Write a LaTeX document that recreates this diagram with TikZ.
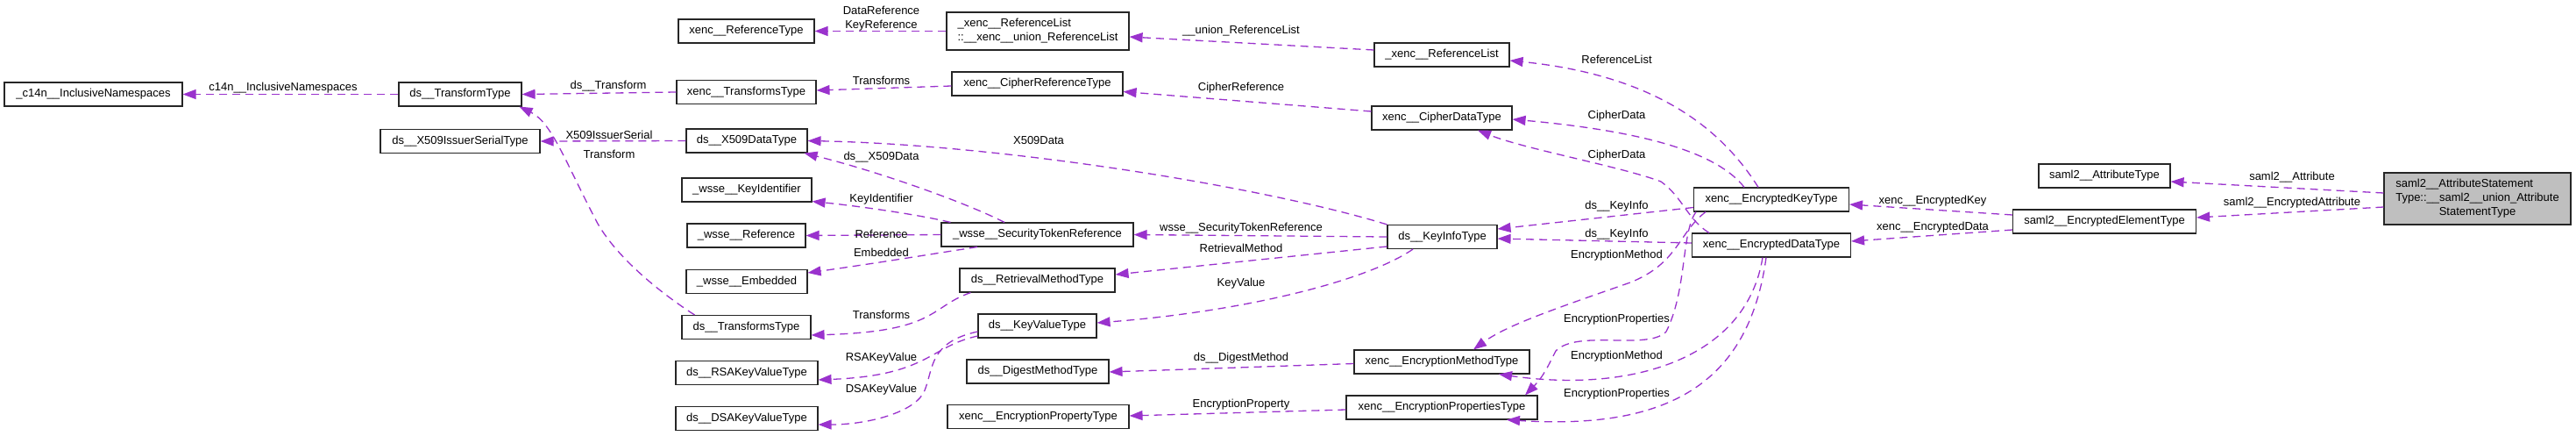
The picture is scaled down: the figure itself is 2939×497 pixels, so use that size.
\documentclass[tikz,border=0pt]{standalone}
\usepackage{fontspec}
\setmainfont{Liberation Sans}
\usetikzlibrary{arrows.meta}
\definecolor{edgec}{HTML}{9A32CD}
\definecolor{mainfill}{HTML}{BFBFBF}
\begin{document}
\begin{tikzpicture}[x=1pt,y=-1pt,font=\fontsize{13}{16}\selectfont,
  cls/.style={draw=black!85, line width=1.1pt, fill=white, inner sep=0pt, minimum height=27pt, align=center},
  rel/.style={draw=edgec, line width=1.3pt, dash pattern=on 9pt off 6pt, -{Triangle[length=15pt,width=11pt]}},
  lbl/.style={inner sep=0pt, align=center}]
\fill[white] (0,0) rectangle (2939,497);
\useasboundingbox (0,0) rectangle (2939,497);
% class nodes
\node[cls, minimum width=203pt] (c14n) at (106.5,107.5) {\_c14n\_\_InclusiveNamespaces};
\node[cls, minimum width=140pt] (tt) at (525,107.5) {ds\_\_TransformType};
\node[cls, minimum width=182pt] (xis) at (525,161) {ds\_\_X509IssuerSerialType};
\node[cls, minimum width=155pt] (rt) at (851.5,35.5) {xenc\_\_ReferenceType};
\node[cls, minimum width=159pt] (xtt) at (851.5,105) {xenc\_\_TransformsType};
\node[cls, minimum width=138pt] (xd) at (852,160.5) {ds\_\_X509DataType};
\node[cls, minimum width=148pt] (ki) at (852,216.5) {\_wsse\_\_KeyIdentifier};
\node[cls, minimum width=135pt] (wr) at (851.5,268.5) {\_wsse\_\_Reference};
\node[cls, minimum width=138pt] (we) at (852,321) {\_wsse\_\_Embedded};
\node[cls, minimum width=147pt] (dtt) at (851.5,373) {ds\_\_TransformsType};
\node[cls, minimum width=162pt] (rsa) at (852,425) {ds\_\_RSAKeyValueType};
\node[cls, minimum width=162pt] (dsa) at (852,477) {ds\_\_DSAKeyValueType};
\node[cls, minimum width=208pt, minimum height=43pt, align=left] (url) at (1184,35.5) {\_xenc\_\_ReferenceList\\::\_\_xenc\_\_union\_ReferenceList};
\node[cls, minimum width=195pt] (crt) at (1183.5,95.5) {xenc\_\_CipherReferenceType};
\node[cls, minimum width=219pt] (str) at (1183.5,267.5) {\_wsse\_\_SecurityTokenReference};
\node[cls, minimum width=177pt] (rmt) at (1183.5,319.5) {ds\_\_RetrievalMethodType};
\node[cls, minimum width=135pt] (kvt) at (1183.5,371.5) {ds\_\_KeyValueType};
\node[cls, minimum width=162pt] (dmt) at (1184,423.5) {ds\_\_DigestMethodType};
\node[cls, minimum width=207pt] (ept) at (1184.5,475) {xenc\_\_EncryptionPropertyType};
\node[cls, minimum width=154pt] (rl) at (1645,62.5) {\_xenc\_\_ReferenceList};
\node[cls, minimum width=160pt] (cdt) at (1645,134.5) {xenc\_\_CipherDataType};
\node[cls, minimum width=125pt] (kit) at (1645.5,270) {ds\_\_KeyInfoType};
\node[cls, minimum width=200pt] (emt) at (1645,412.5) {xenc\_\_EncryptionMethodType};
\node[cls, minimum width=218pt] (epst) at (1645,464.5) {xenc\_\_EncryptionPropertiesType};
\node[cls, minimum width=177pt] (ek) at (2021,227.5) {xenc\_\_EncryptedKeyType};
\node[cls, minimum width=181pt] (ed) at (2021,279.5) {xenc\_\_EncryptedDataType};
\node[cls, minimum width=150pt] (at) at (2401,200.5) {saml2\_\_AttributeType};
\node[cls, minimum width=209pt] (eet) at (2401,252.5) {saml2\_\_EncryptedElementType};
\node[cls, fill=mainfill, minimum width=213pt, minimum height=59pt] (main) at (2826.5,226.5)
  {\rlap{saml2\_\_AttributeStatement}\phantom{Type::\_\_saml2\_\_union\_Attribute}\\Type::\_\_saml2\_\_union\_Attribute\\StatementType};
% connectors
\draw[rel] (tt.west) -- (c14n.east);
\draw[rel] (xtt.west) -- (tt.east);
\draw[rel] ([xshift=15pt]dtt.north west) .. controls (755,335) and (705,295) .. (682,255) .. controls (645,185) and (630,140) .. ([xshift=-3pt]tt.south east);
\draw[rel] (xd.west) -- (xis.east);
\draw[rel] (url.west) -- (rt.east);
\draw[rel] ([yshift=5.5pt]rl.west) -- ([yshift=-6.5pt]url.east);
\draw[rel] ([yshift=-2.5pt]crt.west) -- ([yshift=2pt]xtt.east);
\draw[rel] ([yshift=7.5pt]cdt.west) -- ([yshift=-9pt]crt.east);
\draw[rel] ([xshift=-15pt]ek.north) .. controls (1960,140) and (1880,85) .. ([yshift=-6.5pt]rl.east);
\draw[rel] ([xshift=-31pt]ek.north) .. controls (1960,175) and (1880,150) .. ([yshift=-1.5pt]cdt.east);
\draw[rel] ([xshift=-71pt]ed.north) .. controls (1925,250) and (1920,225) .. (1895,207) .. controls (1850,190) and (1740,170) .. ([xshift=41pt]cdt.south);
\draw[rel] ([yshift=-9pt]ek.west) -- ([yshift=9pt]kit.east);
\draw[rel] ([yshift=2.5pt]ed.west) -- ([yshift=-2pt]kit.east);
\draw[rel] (kit.north west) .. controls (1450,215) and (1150,165) .. (xd.east);
\draw[rel] ([xshift=-37.5pt]str.north) .. controls (1100,230) and (1000,195) .. ([xshift=-4pt]xd.south east);
\draw[rel] ([xshift=11pt]str.north west) .. controls (1050,245) and (980,235) .. ([yshift=1pt]ki.south east);
\draw[rel] (str.west) -- (wr.east);
\draw[rel] ([xshift=-68.5pt]str.south) .. controls (1060,290) and (1000,300) .. ([yshift=10pt]we.east);
\draw[rel] (kit.west) -- (str.east);
\draw[rel] ([yshift=-11pt]kit.west) -- ([yshift=6.5pt]rmt.east);
\draw[rel] ([xshift=-33.5pt]kit.south) .. controls (1560,320) and (1420,355) .. ([yshift=3.5pt]kvt.east);
\draw[rel] ([xshift=13pt]rmt.south west) .. controls (1060,350) and (1070,378) .. ([yshift=-9pt]dtt.east);
\draw[rel] ([yshift=-11.5pt]kvt.west) .. controls (1060,395) and (1060,428) .. ([yshift=-8pt]rsa.east);
\draw[rel] ([yshift=-6.5pt]kvt.west) .. controls (1060,390) and (1065,420) .. (1055,445) .. controls (1045,470) and (990,484) .. ([yshift=-7pt]dsa.east);
\draw[rel] ([yshift=-2pt]emt.west) -- ([yshift=-0.5pt]dmt.east);
\draw[rel] ([yshift=-2.5pt]epst.west) -- ([yshift=1pt]ept.east);
\draw[rel] ([xshift=-75pt]ek.south) .. controls (1915,265) and (1915,300) .. (1860,322) .. controls (1780,350) and (1720,370) .. ([xshift=36pt]emt.north);
\draw[rel] ([xshift=-86pt]ek.south) .. controls (1918,265) and (1925,330) .. (1901,378) .. controls (1880,400) and (1800,375) .. (1775,400) .. controls (1765,420) and (1760,430) .. ([xshift=95pt]epst.north);
\draw[rel] ([xshift=-10pt]ed.south) .. controls (1992,410) and (1860,448) .. ([xshift=65pt]emt.south);
\draw[rel] ([xshift=-6pt]ed.south) .. controls (1995,440) and (1900,490) .. ([xshift=74pt]epst.south);
\draw[rel] ([yshift=6.5pt]main.west) -- ([yshift=-6.5pt]at.east);
\draw[rel] ([yshift=-9.5pt]main.west) -- ([yshift=4.5pt]eet.east);
\draw[rel] ([yshift=7.5pt]eet.west) -- ([yshift=-5.5pt]ek.east);
\draw[rel] ([yshift=-9.5pt]eet.west) -- ([yshift=4.5pt]ed.east);
% labels
\node[lbl] (l1) at (323,100) {c14n\_\_InclusiveNamespaces};
\node[lbl] (l2) at (694,98) {ds\_\_Transform};
\node[lbl] (l3) at (695,154) {X509IssuerSerial};
\node[lbl] (l4) at (695,176) {Transform};
\node[lbl] (l5) at (1005.5,21) {DataReference\\KeyReference};
\node[lbl] (l6) at (1416,35) {\_\_union\_ReferenceList};
\node[lbl] (l7) at (1005.5,92) {Transforms};
\node[lbl] (l8) at (1416,100) {CipherReference};
\node[lbl] (l9) at (1185,160) {X509Data};
\node[lbl] (l10) at (1005.5,179) {ds\_\_X509Data};
\node[lbl] (l11) at (1005.5,227) {KeyIdentifier};
\node[lbl] (l12) at (1005.5,267) {Reference};
\node[lbl] (l13) at (1005.5,288) {Embedded};
\node[lbl] (l14) at (1416,260) {wsse\_\_SecurityTokenReference};
\node[lbl] (l15) at (1416,283) {RetrievalMethod};
\node[lbl] (l16) at (1416,323) {KeyValue};
\node[lbl] (l17) at (1005.5,359) {Transforms};
\node[lbl] (l18) at (1005.5,408) {RSAKeyValue};
\node[lbl] (l19) at (1005.5,444) {DSAKeyValue};
\node[lbl] (l20) at (1416,408) {ds\_\_DigestMethod};
\node[lbl] (l21) at (1416,461) {EncryptionProperty};
\node[lbl] (l22) at (1844.5,68) {ReferenceList};
\node[lbl] (l23) at (1844.5,132) {CipherData};
\node[lbl] (l24) at (1844.5,177) {CipherData};
\node[lbl] (l25) at (1844.5,235) {ds\_\_KeyInfo};
\node[lbl] (l26) at (1844.5,267) {ds\_\_KeyInfo};
\node[lbl] (l27) at (1844.5,291) {EncryptionMethod};
\node[lbl] (l28) at (1844.5,364) {EncryptionProperties};
\node[lbl] (l29) at (1844.5,406) {EncryptionMethod};
\node[lbl] (l30) at (1844.5,449) {EncryptionProperties};
\node[lbl] (l31) at (2205,229) {xenc\_\_EncryptedKey};
\node[lbl] (l32) at (2205,259) {xenc\_\_EncryptedData};
\node[lbl] (l33) at (2615,202) {saml2\_\_Attribute};
\node[lbl] (l34) at (2615,231) {saml2\_\_EncryptedAttribute};
\end{tikzpicture}
\end{document}
